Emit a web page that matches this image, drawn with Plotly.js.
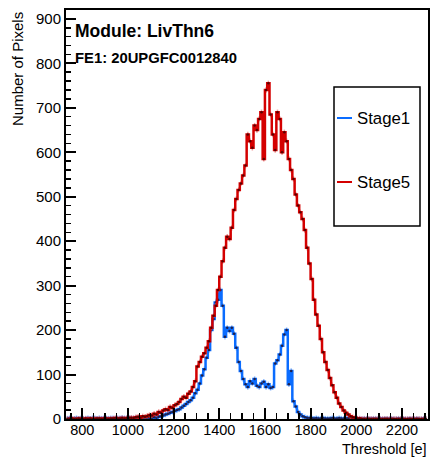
<!DOCTYPE html>
<html>
<head>
<meta charset="utf-8">
<script src="https://cdn.plot.ly/plotly-3.0.1.min.js"></script>
<style>html,body{margin:0;padding:0;background:#fff;}#chart{width:432px;height:458px;}</style>
</head>
<body>
<div id="chart"></div>
<script>
// Histogram binning (threshold in electrons)
const firstBinCenter = 735;
const binWidth = 10;

// Stage1 counts per bin (735 ... 2305)
const stage1 = [
  1,2,1,1,2,1,2,1,1,2, 1,2,2,1,2,1,2,2,1,2, 2,1,2,2,3,2,2,3,2,2, 3,2,3,3,2,3,3,
  3,4,3,5,6,8,10,12,14,16,
  18,20,22,26,30,34,38,42,48,58,
  66,80,98,112,138,155,200,225,262,268,
  290,255,185,205,198,205,192,160,128,108,
  90,78,72,85,80,90,75,72,80,84,
  72,78,70,72,125,132,145,165,190,200,
  78,108,40,28,16,10,6,4,3,2,
  2,1,2,1,1,2,1,1,1,2,
  1,1,2,1,1,1,2,1,1,1,
  1,1,0,1,1,
  1,0,1,1,0,1,0,1,1,0,1,0,0,1,0,1,0,0,1,0,0,1,0,0,1,0
];

// Stage5 counts per bin (735 ... 2305)
const stage5 = [
  0,0,1,0,0,1,0,0,1,0, 1,0,0,1,1,0,1,1,0,1, 1,2,1,1,2,1,2,
  2,3,2,4,5,3,6,5,7,9,
  8,12,10,16,14,19,22,20,27,25,
  31,34,38,45,50,48,57,62,72,85,
  118,128,140,148,160,175,205,232,255,290,
  320,355,385,410,405,430,470,495,515,530,
  548,570,640,625,610,660,650,675,690,585,
  740,755,685,640,605,690,675,600,645,625,
  585,560,540,505,480,465,450,425,385,350,
  315,268,235,210,180,150,128,110,92,76,
  60,48,35,27,19,14,10,6,4,3,
  1,1,0,0,0,
  0,0,0,0,0,0,0,0,0,0,0,0,0,0,0,0,0,0,0,0,0,0,0,0,0,0
];

const seriesNames = ['Stage1', 'Stage5'];
const seriesColors = ['#0a6cff', '#d40000'];
const errColors = ['rgba(80,150,255,0.6)', 'rgba(235,90,90,0.6)'];
const moduleLabel = 'Module: LivThn6';
const feLabel = 'FE1: 20UPGFC0012840';
const xTitle = 'Threshold [e]';
const yTitle = 'Number of Pixels';
const xTickVals = [800, 1000, 1200, 1400, 1600, 1800, 2000, 2200];
const yTickVals = [0, 100, 200, 300, 400, 500, 600, 700, 800, 900];

const centers = stage1.map((_, i) => firstBinCenter + i * binWidth);
const FONT = '"Liberation Sans", Arial, Helvetica, sans-serif';

function histTrace(vals, k) {
  return {
    x: centers, y: vals, type: 'scatter', mode: 'lines+markers', name: seriesNames[k],
    line: {shape: 'hvh', color: seriesColors[k], width: 2.5},
    marker: {size: 2.5, color: 'rgba(40,0,0,0.7)'},
    error_y: {type: 'constant', value: 6, visible: true, color: errColors[k], thickness: 1.5, width: 0},
    showlegend: false, hoverinfo: 'x+y'
  };
}

const data = [histTrace(stage1, 0), histTrace(stage5, 1)];

// Plot area: left 66, right 428, top 10, bottom 419
const L = 66, R = 428, T = 10, B = 419;
const px = v => (v - L) / (R - L);
const py = v => (B - v) / (B - T);

const layout = {
  width: 432, height: 458,
  margin: {l: L, r: 432 - R, t: T, b: 458 - B, pad: 0},
  paper_bgcolor: '#fff', plot_bgcolor: '#fff',
  font: {family: FONT, color: '#000', size: 15},
  showlegend: false,
  xaxis: {
    range: [729, 2314], tickvals: xTickVals, ticktext: xTickVals.map(String),
    ticks: 'inside', ticklen: 11, tickwidth: 2, tickcolor: '#000',
    minor: {dtick: 50, tick0: 0, ticks: 'inside', ticklen: 6, tickwidth: 1.5, tickcolor: '#000'},
    showline: true, linewidth: 2, linecolor: '#000', mirror: true,
    showgrid: false, zeroline: false, tickfont: {size: 14.5, family: FONT},
    ticklabelstandoff: -3
  },
  yaxis: {
    range: [0, 920], tickvals: yTickVals, ticktext: yTickVals.map(String),
    ticks: 'inside', ticklen: 10, tickwidth: 2, tickcolor: '#000',
    minor: {dtick: 20, tick0: 0, ticks: 'inside', ticklen: 5, tickwidth: 1.5, tickcolor: '#000'},
    showline: true, linewidth: 2, linecolor: '#000', mirror: true,
    showgrid: false, zeroline: false, tickfont: {size: 15, family: FONT}, ticklabelstandoff: 0
  },
  shapes: [
    {type: 'rect', xref: 'paper', yref: 'paper', x0: px(334), x1: px(420), y0: py(226), y1: py(87),
     line: {color: '#000', width: 1.5}, fillcolor: 'rgba(255,255,255,1)', layer: 'above'},
    {type: 'line', xref: 'paper', yref: 'paper', x0: px(337), x1: px(352), y0: py(118), y1: py(118),
     line: {color: seriesColors[0], width: 2}},
    {type: 'line', xref: 'paper', yref: 'paper', x0: px(337), x1: px(352), y0: py(182), y1: py(182),
     line: {color: seriesColors[1], width: 2}}
  ],
  annotations: [
    {text: '<b>' + moduleLabel + '</b>', xref: 'paper', yref: 'paper', x: px(73), y: py(31),
     xanchor: 'left', yanchor: 'middle', showarrow: false, font: {size: 17.5, family: FONT, color: '#000'}},
    {text: '<b>' + feLabel + '</b>', xref: 'paper', yref: 'paper', x: px(73), y: py(58),
     xanchor: 'left', yanchor: 'middle', showarrow: false, font: {size: 14.8, family: FONT, color: '#000'}},
    {text: seriesNames[0], xref: 'paper', yref: 'paper', x: px(355), y: py(118),
     xanchor: 'left', yanchor: 'middle', showarrow: false, font: {size: 16.8, family: FONT, color: '#000'}},
    {text: seriesNames[1], xref: 'paper', yref: 'paper', x: px(355), y: py(182),
     xanchor: 'left', yanchor: 'middle', showarrow: false, font: {size: 16.8, family: FONT, color: '#000'}},
    {text: xTitle, xref: 'paper', yref: 'paper', x: px(429), y: py(449),
     xanchor: 'right', yanchor: 'middle', showarrow: false, font: {size: 14.5, family: FONT, color: '#000'}},
    {text: yTitle, xref: 'paper', yref: 'paper', x: px(17), y: py(69), textangle: -90,
     xanchor: 'center', yanchor: 'middle', showarrow: false, font: {size: 15, family: FONT, color: '#000'}}
  ]
};

Plotly.newPlot('chart', data, layout, {staticPlot: true, displayModeBar: false});
</script>
</body>
</html>
